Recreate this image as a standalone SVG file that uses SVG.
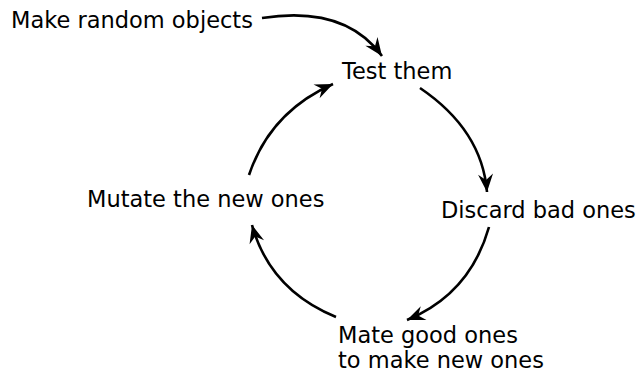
<svg xmlns="http://www.w3.org/2000/svg" width="642" height="375" viewBox="0 0 642 375">
<style>
text{font-family:"DejaVu Sans",sans-serif;font-size:22.5px;fill:#000}
.c{fill:none;stroke:#000;stroke-width:2.6}
</style>
<defs>
<marker id="ah" viewBox="-19 -8 20 16" markerWidth="20" markerHeight="16" markerUnits="userSpaceOnUse" refX="0" refY="0" orient="auto">
<path d="M0,0 L-18,-7.5 L-12,0 L-18,7.5 Z" fill="#000"/>
</marker>
</defs>
<rect width="642" height="375" fill="#fff"/>
<g id="connectors">
<path class="c" marker-end="url(#ah)" d="M262,18 Q345,5 382,56"/>
<path class="c" marker-end="url(#ah)" d="M420,88 Q482,130 487,192"/>
<path class="c" marker-end="url(#ah)" d="M489,227 Q470,294 407,320"/>
<path class="c" marker-end="url(#ah)" d="M336,317 Q270,290 252,225"/>
<path class="c" marker-end="url(#ah)" d="M249,175 Q270,112 333,84"/>
</g>
<g id="n-make"><text x="11" y="28">Make random objects</text></g>
<g id="n-test"><text x="342" y="79">Test them</text></g>
<g id="n-discard"><text x="441" y="218">Discard bad ones</text></g>
<g id="n-mutate"><text x="87" y="207">Mutate the new ones</text></g>
<g id="n-mate"><text x="338" y="343">Mate good ones</text><text x="338" y="368">to make new ones</text></g>
</svg>
